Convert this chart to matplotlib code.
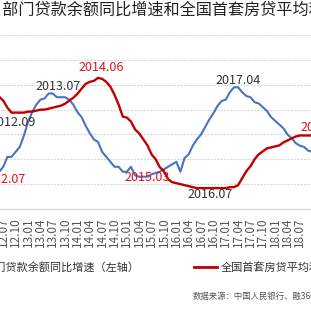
import numpy as np
import pandas as pd
import matplotlib
matplotlib.use("Agg")
import matplotlib.pyplot as plt
from matplotlib.lines import Line2D

plt.rcParams['font.family'] = ['Noto Sans CJK SC', 'DejaVu Sans']

# monthly data starting 2012.06
household_loan = [13.0, 13.4, 14.2, 14.2, 14.6, 15.0, 15.9, 17.0, 17.8, 18.4,
                  18.8, 18.9, 19.3, 19.3, 19.0, 19.0, 19.0, 18.8, 18.4, 17.8,
                  17.4, 16.7, 16.1, 15.6, 15.4, 14.6, 14.2, 13.8, 13.4, 13.4,
                  13.0, 13.0, 13.4, 12.7, 12.6, 12.6, 12.6, 12.8, 12.9, 13.0,
                  13.2, 13.4, 13.6, 13.8, 13.0, 14.1, 14.4, 15.1, 15.6, 16.0,
                  16.6, 17.2, 17.7, 18.3, 18.7, 18.8, 19.4, 19.8, 19.8, 19.4,
                  19.1, 19.0, 18.6, 18.5, 18.2, 17.9, 17.4, 17.1, 16.8, 16.5,
                  16.0, 15.7, 15.3, 15.1, 15.0, 14.7, 14.6]
first_home_rate = [6.26, 6.18, 6.04, 5.94, 5.94, 5.94, 5.94, 5.96, 5.96, 5.98,
                   6.00, 6.00, 6.02, 6.04, 6.06, 6.08, 6.12, 6.18, 6.24, 6.32,
                   6.42, 6.52, 6.56, 6.58, 6.64, 6.62, 6.56, 6.46, 6.30, 6.10,
                   5.86, 5.84, 5.76, 5.60, 5.52, 5.40, 5.28, 5.10, 5.00, 4.84,
                   4.76, 4.60, 4.54, 4.52, 4.50, 4.48, 4.46, 4.44, 4.42, 4.42,
                   4.42, 4.42, 4.42, 4.42, 4.42, 4.42, 4.44, 4.44, 4.48, 4.62,
                   4.76, 4.86, 5.00, 5.10, 5.16, 5.22, 5.24, 5.26, 5.28, 5.34,
                   5.38, 5.42, 5.46, 5.48, 5.48, 5.48, 5.48]

tick_labels = ["12.07", "12.10", "13.01", "13.04", "13.07", "13.10", "14.01",
               "14.04", "14.07", "14.10", "15.01", "15.04", "15.07", "15.10",
               "16.01", "16.04", "16.07", "16.10", "17.01", "17.04", "17.07",
               "17.10", "18.01", "18.04", "18.07"]

# annotations: (text, month index, rate-axis value, color)
notes = [("2014.06", 23.7, 6.84, "#E0101A"),
         ("2013.07", 13.3, 6.46, "#333333"),
         ("2012.09", 2.35, 5.74, "#333333"),
         ("2012.07", 0.05, 4.60, "#E0101A"),
         ("2015.03", 34.9, 4.64, "#E0101A"),
         ("2016.07", 50.2, 4.30, "#333333"),
         ("2017.04", 57.0, 6.58, "#333333"),
         ("2018.07", 77.6, 5.64, "#E0101A")]

months = np.arange(len(household_loan)) - 1  # index 0 = 2012.07

fig = plt.figure(figsize=(3.11, 3.11), dpi=100)
ax = fig.add_axes([0, 0.328, 1, 0.559])
ax2 = ax.twinx()

ax.plot(months, household_loan, color="#4A72C0", lw=1.5)
ax2.plot(months, first_home_rate, color="#C00000", lw=1.7)

ax.set_xlim(-0.8, 74.7)
ax.set_ylim(10, 24)
ax.set_yticks(np.arange(10, 25, 2))
ax2.set_ylim(4, 7.5)
ax.grid(axis="y", color="#D9D9D9", linestyle=(0, (2, 1)), lw=0.8)
ax.set_axisbelow(True)

ax.set_xticks(np.arange(0, 73, 3))
ax.set_xticklabels(tick_labels, rotation=90, fontsize=8.5, color="#555555")
ax.tick_params(axis="x", length=0, pad=6)
ax.tick_params(axis="y", length=0, labelleft=False)
ax2.tick_params(axis="y", length=0, labelright=False)

for a in (ax, ax2):
    for s in ("left", "right", "top"):
        a.spines[s].set_visible(False)
    a.spines["bottom"].set_color("#D9D9D9")

for txt, m, v, c in notes:
    ax2.text(m, v, txt, color=c, fontsize=9, ha="center", va="center",
             clip_on=False)

fig.text(0.5, 0.966, "住户部门贷款余额同比增速和全国首套房贷平均利率",
         ha="center", va="center", fontsize=11.6, color="#222222")

handles = [Line2D([], [], color="#4A72C0", lw=2),
           Line2D([], [], color="#C00000", lw=2)]
fig.legend(handles, ["住户部门贷款余额同比增速（左轴）", "全国首套房贷平均利率（右轴）"],
           loc="center", bbox_to_anchor=(0.5, 0.1415), ncol=2, frameon=False,
           fontsize=8, handlelength=2.1, handletextpad=0.35,
           columnspacing=4.9, labelcolor="#333333")

fig.text(0.62, 0.048, "数据来源：中国人民银行、融360", fontsize=6, color="#555555",
         ha="left", va="center")

fig.savefig("out.png", dpi=100)
